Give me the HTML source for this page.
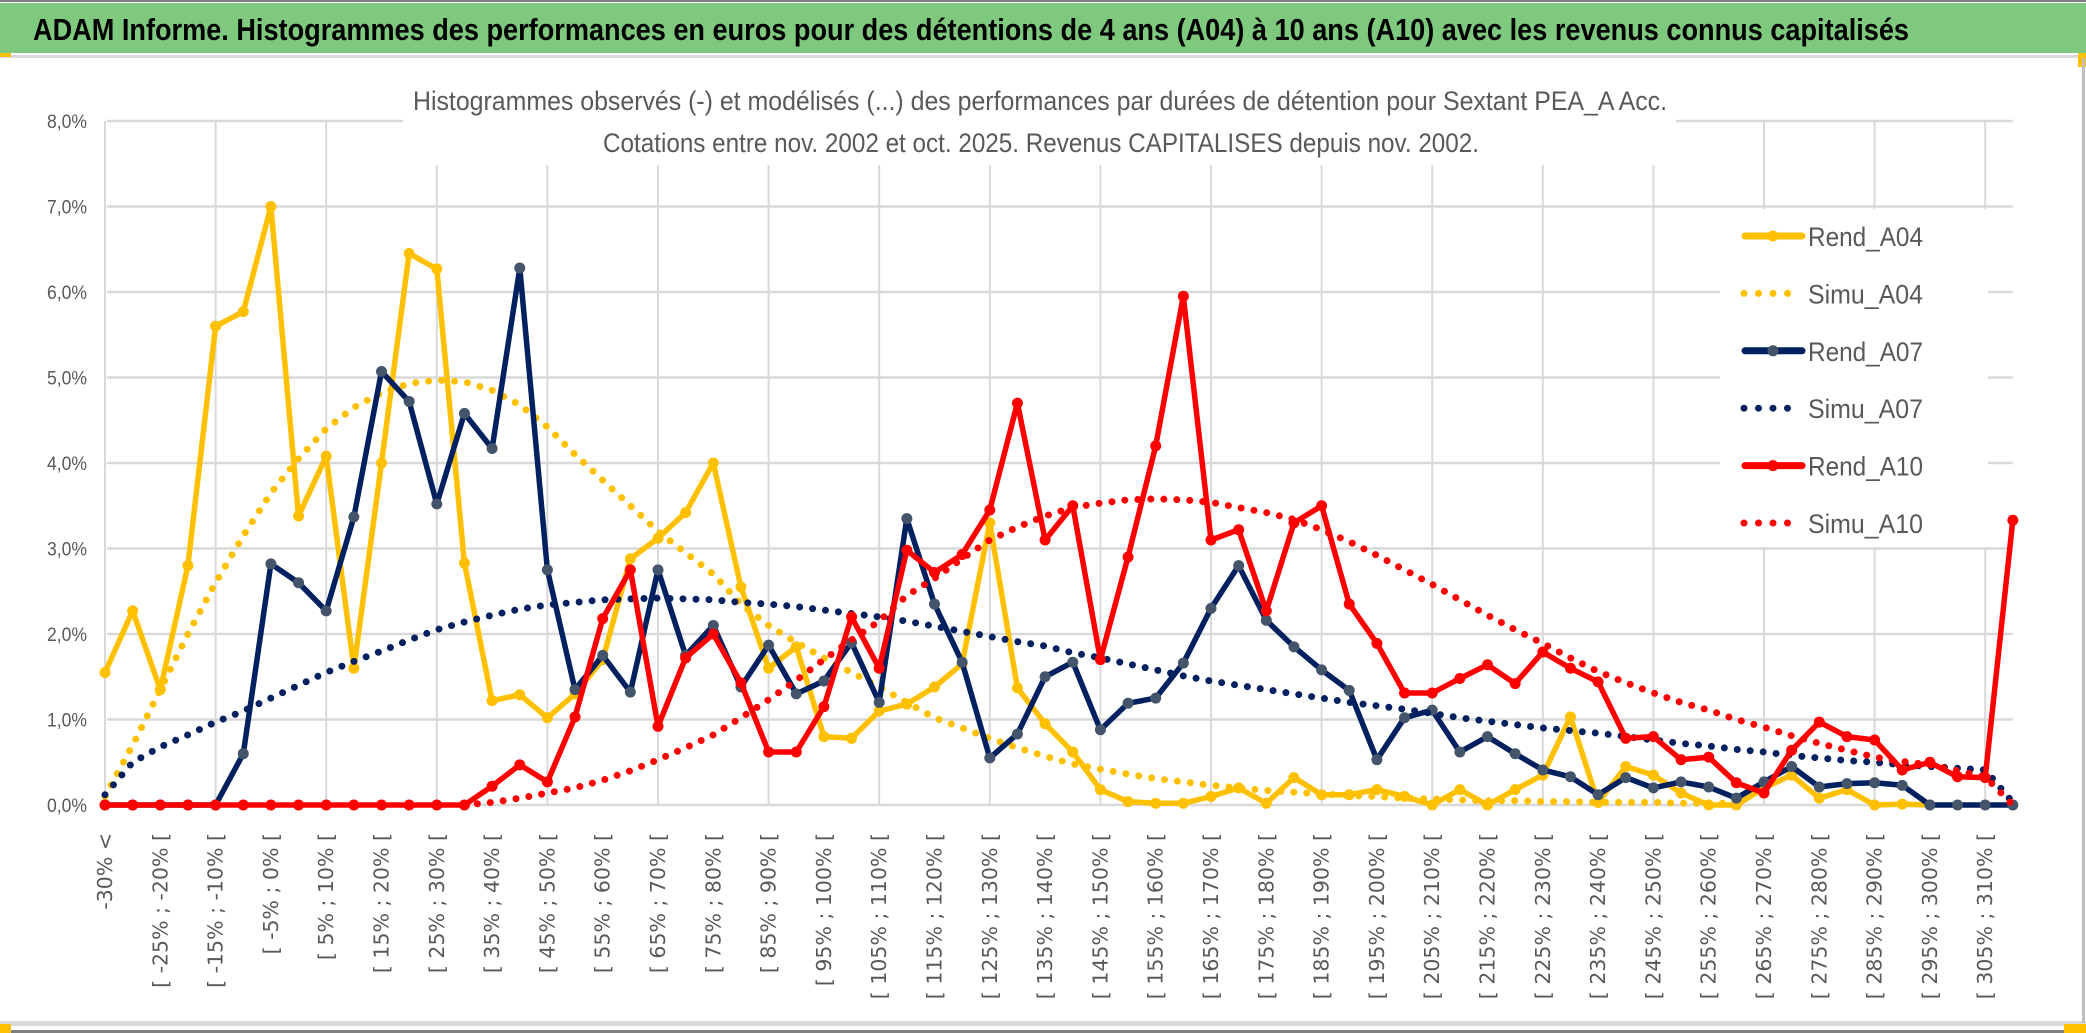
<!DOCTYPE html>
<html><head><meta charset="utf-8"><style>
html,body{margin:0;padding:0;background:#fff;}
svg{display:block;}
</style></head><body>
<svg id="chart" width="2086" height="1033" viewBox="0 0 2086 1033" xmlns="http://www.w3.org/2000/svg">
  <rect x="0" y="0" width="2086" height="1033" fill="#fff"/>
  <rect x="0" y="0" width="2086" height="2" fill="#7f7f7f"/>
  <rect x="0" y="3" width="2086" height="50" fill="#7fc97f"/>
  <rect x="0" y="55" width="2086" height="3" fill="#d9d9d9"/>
  <rect x="0" y="53" width="11" height="4" fill="#ffc000"/>
  <rect x="2078" y="53" width="8" height="14" fill="#ffc000"/>
  <text x="33" y="40" font-family="'Liberation Sans', sans-serif" font-weight="bold" font-size="31" fill="#000" textLength="1876" lengthAdjust="spacingAndGlyphs">ADAM Informe. Histogrammes des performances en euros pour des détentions de 4 ans (A04) à 10 ans (A10) avec les revenus connus capitalisés</text>
  <rect x="0" y="1021" width="2086" height="5" fill="#d9d9d9"/>
  <rect x="0" y="1030" width="2086" height="3" fill="#7f7f7f"/>
  <rect x="2082" y="58" width="3" height="965" fill="#bfbfbf"/>
  <rect x="0" y="1024" width="11" height="9" fill="#ffc000"/>
  <rect x="2064" y="1024" width="22" height="9" fill="#ffc000"/>
  <g id="grid"></g>
  <g id="yaxis"></g>
  <g id="xaxis"></g>
  <rect x="403" y="60" width="1273" height="105" fill="#fff"/>
  <text x="413" y="110" font-family="'Liberation Sans', sans-serif" font-size="27" fill="#595959" textLength="1254" lengthAdjust="spacingAndGlyphs">Histogrammes observés (-) et modélisés (...) des performances par durées de détention pour Sextant PEA_A Acc.</text>
  <text x="603" y="152" font-family="'Liberation Sans', sans-serif" font-size="27" fill="#595959" textLength="876" lengthAdjust="spacingAndGlyphs">Cotations entre nov. 2002 et oct. 2025. Revenus CAPITALISES depuis nov. 2002.</text>
  <g id="series"></g>
  <g id="legend"></g>
</svg>
<script>
const rendA04 = [1.55,2.27,1.35,2.8,5.6,5.77,7.0,3.38,4.08,1.6, 4.0,6.45,6.27,2.83,1.22,1.29,1.02,1.3,1.7,2.88, 3.12,3.42,4.0,2.55,1.6,1.85,0.8,0.78,1.1,1.18, 1.38,1.65,3.3,1.37,0.95,0.62,0.18,0.04,0.02,0.02, 0.1,0.2,0.02,0.32,0.12,0.12,0.18,0.1,0,0.18, 0,0.18,0.35,1.03,0.03,0.45,0.35,0.14,0,0, 0.2,0.35,0.08,0.18,0,0.01,0,null,null,null];
const simuA04 = [0.1,0.7,1.35,2.0,2.6,3.15,3.65,4.05,4.4,4.65, 4.82,4.93,4.97,4.95,4.85,4.68,4.42,4.1,3.8,3.5, 3.2,2.95,2.7,2.35,2.1,1.9,1.72,1.55,1.38,1.2, 1.02,0.9,0.78,0.67,0.57,0.48,0.42,0.36,0.31,0.27, 0.23,0.2,0.17,0.15,0.13,0.11,0.1,0.08,0.07,0.06, 0.05,0.05,0.04,0.04,0.03,0.03,0.03,0.02,0.02,0.02, null,null,null,null,null,null,null,null,null,null];
const rendA07 = [0,0,0,0,0,0.6,2.82,2.6,2.27,3.37, 5.07,4.72,3.52,4.58,4.17,6.28,2.75,1.35,1.75,1.32, 2.75,1.75,2.1,1.38,1.87,1.3,1.45,1.9,1.2,3.35, 2.35,1.67,0.55,0.83,1.5,1.67,0.88,1.19,1.25,1.66, 2.3,2.8,2.16,1.85,1.58,1.34,0.53,1.02,1.11,0.62, 0.8,0.6,0.41,0.33,0.12,0.32,0.2,0.27,0.21,0.08, 0.27,0.45,0.21,0.25,0.26,0.23,0,0,0,0];
const simuA07 = [0.12,0.5,0.68,0.82,0.97,1.1,1.25,1.4,1.55,1.68, 1.8,1.93,2.05,2.14,2.22,2.29,2.34,2.37,2.4,2.41, 2.42,2.41,2.4,2.37,2.35,2.32,2.28,2.24,2.2,2.15, 2.09,2.03,1.97,1.91,1.86,1.78,1.72,1.65,1.58,1.51, 1.45,1.4,1.35,1.3,1.25,1.2,1.16,1.12,1.07,1.02, 0.98,0.94,0.9,0.87,0.84,0.8,0.76,0.72,0.69,0.65, 0.62,0.58,0.55,0.52,0.5,0.47,0.45,0.43,0.41,0.03];
const rendA10 = [0,0,0,0,0,0,0,0,0,0, 0,0,0,0,0.22,0.47,0.27,1.03,2.18,2.75, 0.92,1.72,2.0,1.43,0.62,0.62,1.15,2.2,1.6,2.98, 2.72,2.93,3.45,4.7,3.1,3.5,1.7,2.9,4.2,5.95, 3.1,3.22,2.27,3.3,3.5,2.35,1.89,1.31,1.31,1.48, 1.64,1.42,1.79,1.6,1.44,0.78,0.8,0.53,0.56,0.26, 0.14,0.64,0.97,0.8,0.76,0.41,0.5,0.33,0.32,3.33];
const simuA10 = [null,null,null,null,null,null,null,null,null,null, null,null,null,0,0.03,0.08,0.14,0.2,0.29,0.4, 0.53,0.67,0.82,1.02,1.23,1.46,1.7,1.93,2.15,2.45, 2.65,2.88,3.1,3.25,3.38,3.48,3.53,3.57,3.58,3.57, 3.54,3.48,3.42,3.34,3.22,3.08,2.92,2.75,2.58,2.4, 2.22,2.05,1.89,1.72,1.56,1.43,1.31,1.2,1.11,1.0, 0.91,0.81,0.72,0.64,0.56,0.51,0.47,0.4,0.33,0.0];
const yTicks = [0,1,2,3,4,5,6,7,8];
const yTickLabels = ["0,0%","1,0%","2,0%","3,0%","4,0%","5,0%","6,0%","7,0%","8,0%"];
const seriesNames = ["Rend_A04","Simu_A04","Rend_A07","Simu_A07","Rend_A10","Simu_A10"];

const categories = ["-30% <"];
for (let k = 1; k < 70; k++) { const lo = -35 + 5*k; categories.push("[ " + lo + "% ; " + (lo+5) + "% ["); }

const NS = "http://www.w3.org/2000/svg";
const X0 = 105, DX = 27.65, Y0 = 805, DY = 85.5;
function xs(i){ return X0 + i*DX; }
function ys(v){ return Y0 - v*DY; }
function mk(tag, attrs, parent){ const e = document.createElementNS(NS, tag); for (const k in attrs) e.setAttribute(k, attrs[k]); parent.appendChild(e); return e; }

const grid = document.getElementById('grid');
const xLast = xs(categories.length-1);
yTicks.forEach((t) => {
  const l = mk('line', {x1: X0+2, x2: xLast, y1: ys(t), y2: ys(t), stroke: '#d9d9d9', 'stroke-width': 2.5}, grid);
  
  
});
for (let i = 0; i < categories.length; i += 4) {
  const l = mk('line', {x1: xs(i), x2: xs(i), y1: ys(8), y2: ys(0), stroke: '#d9d9d9', 'stroke-width': 2}, grid);
  
  
}
const yaxis = document.getElementById('yaxis');
yTicks.forEach((t, k) => {
  const tx = mk('text', {x: 87, y: ys(t)+7, 'text-anchor': 'end', 'font-family': "'Liberation Sans', sans-serif", 'font-size': 19, fill: '#595959', textLength: 40, lengthAdjust: 'spacingAndGlyphs'}, yaxis);
  tx.textContent = yTickLabels[k];
  
  
});
const xaxis = document.getElementById('xaxis');
categories.forEach((c, i) => {
  if (i % 2) return;
  const x = xs(i) + 7;
  const tx = mk('text', {x: x, y: 833, transform: 'rotate(-90 ' + x + ' 833)', 'text-anchor': 'end', 'font-family': "'DejaVu Sans', sans-serif", 'font-size': 20.5, fill: '#595959'}, xaxis);
  tx.textContent = c;
  
  
});

const colors = {y: '#ffc000', n: '#002060', r: '#ff0000'};
const layer = document.getElementById('series');
function pathFor(vals){
  let d = '', pen = false;
  vals.forEach((v, i) => { if (v === null) { pen = false; return; } d += (pen ? 'L' : 'M') + xs(i).toFixed(1) + ' ' + ys(v).toFixed(1) + ' '; pen = true; });
  return d;
}
function solid(vals, color, mcolor, name){
  const g = mk('g', {}, layer);
  
  
  const p = mk('path', {d: pathFor(vals), fill: 'none', stroke: color, 'stroke-width': 5.5, 'stroke-linejoin': 'round', 'stroke-linecap': 'round'}, g);
  
  
  vals.forEach((v, i) => {
    if (v === null) return;
    const c = mk('circle', {cx: xs(i), cy: ys(v), r: 5.5, fill: mcolor}, g);
    
    
  });
}
function dotted(vals, color, name){
  const p = mk('path', {d: pathFor(vals), fill: 'none', stroke: color, 'stroke-width': 7, 'stroke-dasharray': '0 13', 'stroke-linecap': 'round'}, layer);
  
  
}
solid(rendA04, colors.y, colors.y, 'rend-a04');
dotted(simuA04, colors.y, 'simu-a04');
solid(rendA07, colors.n, '#44546a', 'rend-a07');
dotted(simuA07, colors.n, 'simu-a07');
solid(rendA10, colors.r, colors.r, 'rend-a10');
dotted(simuA10, colors.r, 'simu-a10');

const legend = document.getElementById('legend');
const lbox = mk('rect', {x: 1720, y: 209, width: 268, height: 338, fill: '#fff'}, legend);


const lstyle = [['y', true], ['y', false], ['n', true], ['n', false], ['r', true], ['r', false]];
seriesNames.forEach((nm, k) => {
  const cy = 236 + k*57.4;
  const g = mk('g', {}, legend);
  
  
  const col = colors[lstyle[k][0]];
  if (lstyle[k][1]) {
    mk('line', {x1: 1745, x2: 1802, y1: cy, y2: cy, stroke: col, 'stroke-width': 7, 'stroke-linecap': 'round'}, g);
    mk('circle', {cx: 1773, cy: cy, r: 5.5, fill: k === 2 ? '#44546a' : col}, g);
  } else {
    mk('line', {x1: 1744, x2: 1794, y1: cy, y2: cy, stroke: col, 'stroke-width': 7, 'stroke-dasharray': '0 14.5', 'stroke-linecap': 'round'}, g);
  }
  const t = mk('text', {x: 1808, y: cy + 10, 'font-family': "'Liberation Sans', sans-serif", 'font-size': 27, fill: '#595959', textLength: 115, lengthAdjust: 'spacingAndGlyphs'}, g);
  t.textContent = nm;
  
  
});
</script>
</body></html>
